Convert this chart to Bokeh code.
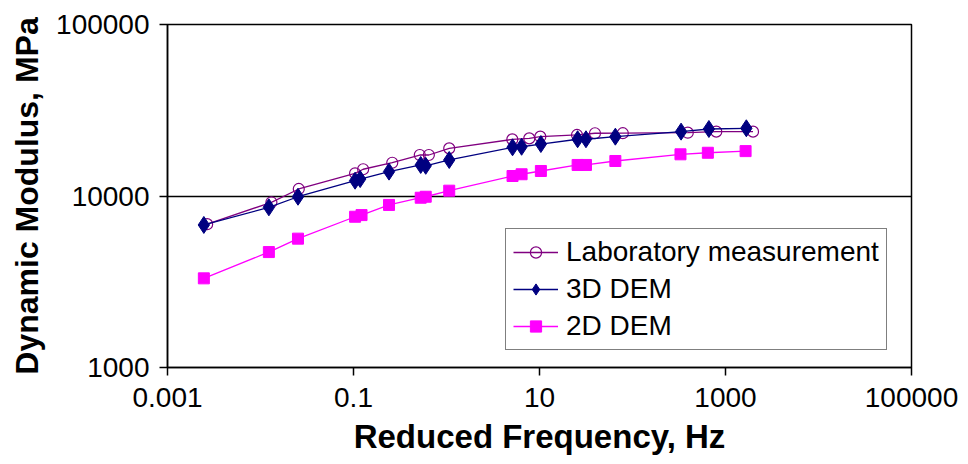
from bokeh.plotting import figure
from bokeh.models import FixedTicker, CustomJSTickFormatter, Legend, LegendItem
from bokeh.embed import file_html
from bokeh.resources import INLINE

# Data
freq_lab = [0.00267, 0.0131, 0.0258, 0.104, 0.127, 0.261, 0.516, 0.646, 1.07, 5.1, 7.76, 10.2, 25.3, 39.5, 78.7, 393, 796, 1977]
mod_lab = [6850, 9190, 10990, 13560, 14320, 15630, 17340, 17340, 18960, 21380, 21670, 22180, 22690, 23220, 23230, 23400, 23730, 23730]

freq_3d = [0.00246, 0.0123, 0.0253, 0.104, 0.118, 0.241, 0.528, 0.598, 1.07, 5.13, 6.42, 10.35, 25.7, 31.6, 65.4, 333, 663, 1675]
mod_3d = [6780, 8590, 9900, 12280, 12550, 13870, 15170, 15000, 16220, 19230, 19370, 20090, 21420, 21420, 22180, 23730, 24590, 24820]

freq_2d = [0.00246, 0.0123, 0.0253, 0.104, 0.122, 0.241, 0.528, 0.598, 1.07, 5.13, 6.42, 10.35, 25.7, 31.6, 65.4, 328, 646, 1644]
mod_2d = [3310, 4710, 5640, 7570, 7740, 8870, 9770, 9900, 10740, 13080, 13390, 13990, 15170, 15170, 16000, 17500, 17870, 18270]

x_ticks = [0.001, 0.1, 10, 1000, 100000]
y_ticks = [1000, 10000, 100000]

FONT = "Liberation Sans"

p = figure(width=968, height=464, x_axis_type="log", y_axis_type="log",
           x_range=(0.001, 100000), y_range=(1000, 100000),
           output_backend="svg", toolbar_location=None,
           min_border_left=167, min_border_right=57, min_border_top=24, min_border_bottom=97)
p.background_fill_color = "white"
p.border_fill_color = "white"
p.outline_line_color = "black"
p.outline_line_width = 1.5

p.xgrid.visible = False
p.ygrid.ticker = FixedTicker(ticks=[10000])
p.ygrid.grid_line_color = "black"
p.ygrid.grid_line_width = 1.5
p.ygrid.grid_line_alpha = 1.0

fmt = CustomJSTickFormatter(code="""
if (tick < 1) { return String(Number(tick.toPrecision(6))); }
return String(Math.round(tick));
""")

for ax, ticks in ((p.xaxis[0], x_ticks), (p.yaxis[0], y_ticks)):
    ax.ticker = FixedTicker(ticks=ticks, minor_ticks=[])
    ax.formatter = fmt
    ax.axis_line_color = "black"
    ax.axis_line_width = 1.5
    ax.major_tick_line_color = "black"
    ax.major_tick_line_width = 1.5
    ax.major_tick_out = 8
    ax.major_tick_in = 0
    ax.minor_tick_line_color = None
    ax.major_label_text_font = FONT
    ax.major_label_text_font_size = "28px"
    ax.major_label_text_color = "black"
    ax.axis_label_text_font = FONT
    ax.axis_label_text_font_style = "bold"
    ax.axis_label_text_color = "black"

p.xaxis.axis_label = "Reduced Frequency, Hz"
p.yaxis.axis_label = "Dynamic Modulus, MPa"
p.xaxis.axis_label_text_font_size = "33px"
p.yaxis.axis_label_text_font_size = "32px"
p.xaxis.major_label_standoff = 12
p.yaxis.major_label_standoff = 10
p.xaxis.axis_label_standoff = 8
p.yaxis.axis_label_standoff = 8

lab_line = p.line(freq_lab, mod_lab, line_color="#800080", line_width=1.3)
lab_pts = p.scatter(freq_lab, mod_lab, marker="circle", size=11, line_color="#800080",
                    fill_color="white", fill_alpha=0.0, line_width=1.2)
d3_line = p.line(freq_3d, mod_3d, line_color="#000080", line_width=1.3)
d3_pts = p.scatter(freq_3d, mod_3d, marker="diamond", size=17, line_color="#000080",
                   fill_color="#000080")
d2_line = p.line(freq_2d, mod_2d, line_color="#FF00FF", line_width=1.3)
d2_pts = p.scatter(freq_2d, mod_2d, marker="square", size=11, line_color="#FF00FF",
                   fill_color="#FF00FF")

legend = Legend(items=[
    LegendItem(label="Laboratory measurement", renderers=[lab_line, lab_pts]),
    LegendItem(label="3D DEM", renderers=[d3_line, d3_pts]),
    LegendItem(label="2D DEM", renderers=[d2_line, d2_pts]),
], location=(338, 17))
legend.margin = 0
legend.padding = 7
legend.spacing = 5
legend.glyph_width = 45
legend.glyph_height = 28
legend.label_height = 28
legend.label_standoff = 8
legend.label_text_font = FONT
legend.label_text_font_size = "28px"
legend.label_text_color = "black"
legend.border_line_color = "black"
legend.border_line_width = 1.5
legend.background_fill_color = "white"
legend.background_fill_alpha = 1.0
p.add_layout(legend, "center")

open("out.html", "w").write(file_html(p, INLINE))
